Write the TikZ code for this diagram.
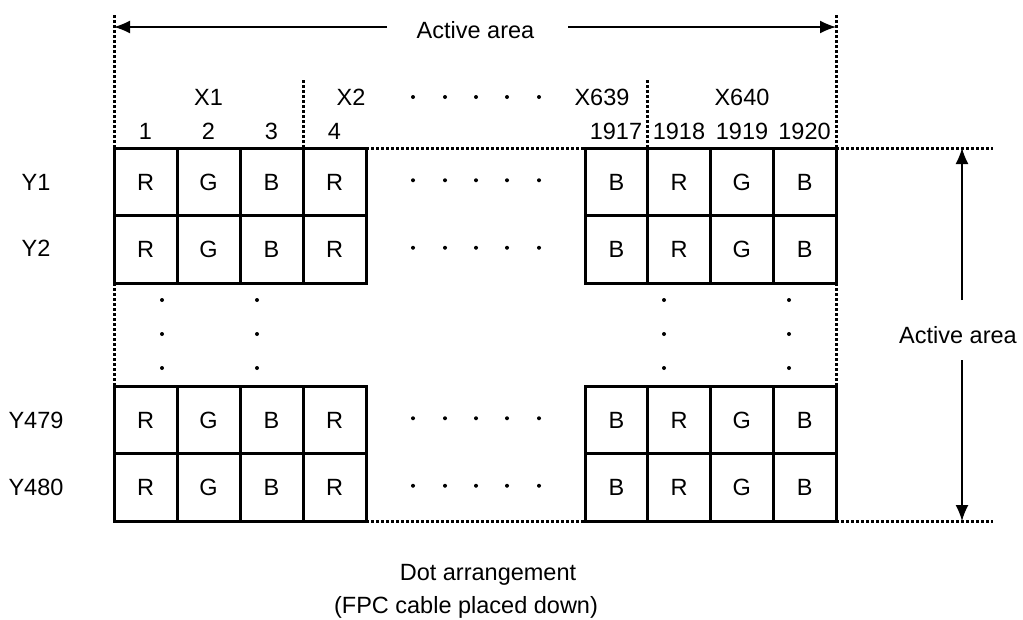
\documentclass[tikz,border=0pt]{standalone}
\usepackage{fontspec}
\setmainfont{Liberation Sans}
\usetikzlibrary{arrows.meta}
\begin{document}
\begin{tikzpicture}[x=1pt,y=-1pt,
  every node/.style={font=\fontsize{23.5}{28}\selectfont, inner sep=0pt, outer sep=0pt, text height=16.8pt, text depth=0pt},
  cellL/.style={draw, line width=3pt, minimum width=63pt, minimum height=67.5pt},
  cellR/.style={draw, line width=3pt, minimum width=62.75pt, minimum height=67.5pt},
  dotline/.style={line width=3pt, dash pattern=on 3pt off 2pt},
  dimarrow/.style={line width=1.5pt, -{Latex[length=16pt,width=13pt]}}
]
\useasboundingbox (0,0) rectangle (1023,619);

% grid cells and row dots
\foreach \r/\y in {1/181.75,2/249.25,3/419.75,4/487.25}{
  \foreach \c/\t in {1/R,2/G,3/B,4/R}{
    \node[cellL] (L\r\c) at ({114+63*(\c-0.5)},\y) {\t};
  }
  \foreach \c/\t in {1/B,2/R,3/G,4/B}{
    \node[cellR] (Q\r\c) at ({585+62.75*(\c-0.5)},\y) {\t};
  }
  \foreach \x in {413,445,476,507,539} \fill (\x,\y-1.5) circle (2pt);
}

% row labels
\node (Y1) at (36,182) {Y1};
\node (Y2) at (36,248) {Y2};
\node (Y479) at (36,420) {Y479};
\node (Y480) at (36,487) {Y480};

% column labels
\node (X1) at (208.5,97) {X1};
\node (X2) at (351,97) {X2};
\node (X639) at (602,97) {X639};
\node (X640) at (742,97) {X640};
\foreach \x in {413,445,476,507,539} \fill (\x,97) circle (2pt);

\node (n1) at (145.5,131) {1};
\node (n2) at (208.5,131) {2};
\node (n3) at (271.5,131) {3};
\node (n4) at (334.5,131) {4};
\node (n1917) at (616,131) {1917};
\node (n1918) at (679,131) {1918};
\node (n1919) at (742,131) {1919};
\node (n1920) at (804.5,131) {1920};

% vertical dots in the middle band
\foreach \x in {162,257,664,789}
  \foreach \y in {300,334,368} \fill (\x,\y) circle (2pt);

% dotted boundaries
\coordinate (TL) at (114,14);
\coordinate (TR) at (836,14);
\coordinate (HR1) at (993,148);
\coordinate (HR2) at (993,521);
\draw[dotline] (L14.north east) -- (Q11.north west);
\draw[dotline] (Q14.north east) -- (HR1);
\draw[dotline] (L44.south east) -- (Q41.south west);
\draw[dotline] (Q44.south east) -- (HR2);
\draw[dotline] (L11.north west) -- (TL);
\draw[dotline] (Q14.north east) -- (TR);
\draw[dotline] (L21.south west) -- (L31.north west);
\draw[dotline] (Q24.south east) -- (Q34.north east);
\draw[dotline] (L13.north east) -- ++(0,-68);
\draw[dotline] (Q11.north east) -- ++(0,-68);

% horizontal active area
\node (AAtop) at (475.5,30) {Active area};
\coordinate (aL) at (114,27);
\coordinate (aLs) at (387,27);
\coordinate (aR) at (836,27);
\coordinate (aRs) at (568,27);
\draw[dimarrow] (aLs) -- (aL);
\draw[dimarrow] (aRs) -- (aR);

% vertical active area
\node (AAright) at (958,335) {Active area};
\coordinate (vT) at (962,148);
\coordinate (vTs) at (962,300);
\coordinate (vB) at (962,521);
\coordinate (vBs) at (962,360);
\draw[dimarrow] (vTs) -- (vT);
\draw[dimarrow] (vBs) -- (vB);

% caption
\node (cap1) at (488,572) {Dot arrangement};
\node (cap2) at (466,605) {(FPC cable placed down)};
\end{tikzpicture}
\end{document}
